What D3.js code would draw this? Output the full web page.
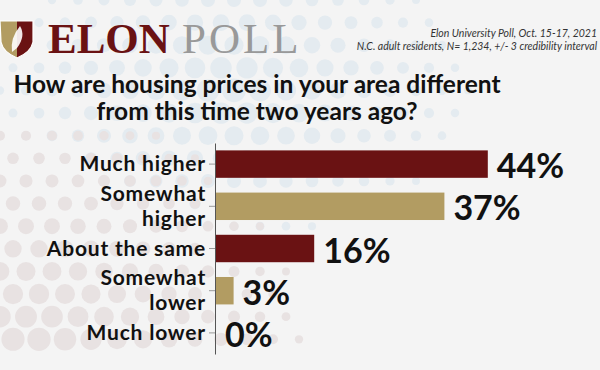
<!DOCTYPE html>
<html lang="en">
<head>
    <meta charset="UTF-8">
    <title>Elon Poll - housing prices</title>
    <script src="https://d3js.org/d3.v7.min.js"></script>
    <style>
        body { margin: 0; background: #f4f4f4; }
        svg { display: block; }
    </style>
</head>
<body>
    <svg></svg>
    <script>
        const width = 600;
        const height = 370;

        // data
        const categories = ["Much higher", "Somewhat\nhigher", "About the same", "Somewhat\nlower", "Much lower"];
        const values = [44, 37, 16, 3, 0];
        const valueLabels = ["44%", "37%", "16%", "3%", "0%"];
        const title = ["How are housing prices in your area different", "from this time two years ago?"];
        const notes = ["Elon University Poll, Oct. 15-17, 2021", "N.C. adult residents, N= 1,234, +/- 3 credibility interval"];

        const red = "#6a1213";
        const gold = "#b29c62";
        const sans = "Lato, 'Open Sans', sans-serif";

        const svg = d3.select("svg")
            .attr("width", width)
            .attr("height", height);

        svg.append("rect")
            .attr("width", width)
            .attr("height", height)
            .attr("fill", "#f4f4f4");

        // background dots (decoration)
        const deco = svg.append("g");
        const step = 26;
        for (let row = 0; row < 16; row++) {
            for (let col = 0; col < 26; col++) {
                const cx = col * step + (row % 2 ? step / 2 : 0);
                const cy = row * step * 0.87;
                // blue cloud at the top
                const db = Math.hypot((cx - 230) / 1.6, cy - 90);
                if (db < 150 && cy < 250) {
                    deco.append("circle")
                        .attr("cx", cx).attr("cy", cy)
                        .attr("r", 12 * (1 - db / 220))
                        .attr("fill", "#e4ebf0");
                }
                // pink cloud bottom left
                const dp = Math.hypot(cx - 30, (cy - 380) * 1.0);
                if (dp < 280 && cy > 120) {
                    deco.append("circle")
                        .attr("cx", cx).attr("cy", cy)
                        .attr("r", 13 * (1 - dp / 400))
                        .attr("fill", "#e8e2e2");
                }
            }
        }

        // logo
        const logo = svg.append("g");
        logo.append("path")
            .attr("d", "M0,21 L17,21 L17,58 Q3,52 1,42 Z")
            .attr("fill", gold);
        logo.append("path")
            .attr("d", "M17,21 L33,21 L33,42 Q31,52 17,58 Z")
            .attr("fill", red);
        logo.append("path")
            .attr("d", "M0,21 L33,21 L33,42 Q31,52 17,58 Q3,52 1,42 Z")
            .attr("fill", "none")
            .attr("stroke", "#fff")
            .attr("stroke-width", 1.2);
        logo.append("path")
            .attr("d", "M12,52 Q10,38 20,26 Q26,36 17,48 Z")
            .attr("fill", "#fff")
            .attr("opacity", 0.9);

        logo.append("text")
            .attr("x", 48).attr("y", 53)
            .attr("font-family", "'Liberation Serif', serif")
            .attr("font-weight", "bold")
            .attr("font-size", 43)
            .attr("fill", red)
            .text("ELON");
        logo.append("text")
            .attr("x", 182).attr("y", 53)
            .attr("font-family", "'Liberation Serif', serif")
            .attr("font-size", 43)
            .attr("letter-spacing", 3)
            .attr("fill", "#999")
            .text("POLL");

        // notes top right
        svg.append("g")
            .selectAll("text")
            .data(notes)
            .join("text")
            .attr("x", 597)
            .attr("y", (d, i) => 37 + i * 13)
            .attr("text-anchor", "end")
            .attr("font-family", sans)
            .attr("font-style", "italic")
            .attr("font-size", 10.5)
            .attr("fill", "#333")
            .text(d => d);

        // title
        svg.append("g")
            .selectAll("text")
            .data(title)
            .join("text")
            .attr("x", 257)
            .attr("y", (d, i) => 93 + i * 27)
            .attr("text-anchor", "middle")
            .attr("font-family", sans)
            .attr("font-weight", "bold")
            .attr("font-size", 24.5)
            .attr("fill", "#111")
            .text(d => d);

        // scales
        const x = d3.scaleLinear()
            .domain([0, 50])
            .range([215, 525]);

        const y = d3.scaleBand()
            .domain(categories)
            .range([143, 354])
            .paddingInner(0.35)
            .paddingOuter(0.175);

        // bars
        svg.append("g")
            .selectAll("rect")
            .data(values)
            .join("rect")
            .attr("x", x(0))
            .attr("y", (d, i) => y(categories[i]))
            .attr("width", d => x(d) - x(0))
            .attr("height", y.bandwidth())
            .attr("fill", (d, i) => i % 2 ? gold : red);

        // axis
        const axis = svg.append("g")
            .attr("transform", `translate(${x(0)},0)`)
            .call(d3.axisLeft(y).tickSize(6).tickSizeOuter(0).tickFormat(""));
        axis.select(".domain").attr("stroke", "#555");
        axis.selectAll(".tick line").attr("stroke", "#999");

        // category labels
        const labels = svg.append("g")
            .selectAll("text")
            .data(categories)
            .join("text")
            .attr("text-anchor", "end")
            .attr("font-family", sans)
            .attr("font-weight", "bold")
            .attr("font-size", 21)
            .attr("letter-spacing", 0.8)
            .attr("fill", "#111");
        labels.each(function(d) {
            const lines = d.split("\n");
            const c = y(d) + y.bandwidth() / 2;
            const lh = 25.5;
            const y0 = c + 7 - (lines.length - 1) * lh / 2;
            d3.select(this).selectAll("tspan")
                .data(lines)
                .join("tspan")
                .attr("x", 206)
                .attr("y", (l, j) => y0 + j * lh)
                .text(l => l);
        });

        // value labels
        svg.append("g")
            .selectAll("text")
            .data(values)
            .join("text")
            .attr("x", d => x(d) + (d ? 9 : 10))
            .attr("y", (d, i) => y(categories[i]) + y.bandwidth() / 2 + 14)
            .attr("font-family", sans)
            .attr("font-weight", "bold")
            .attr("font-size", 34)
            .attr("fill", "#111")
            .text((d, i) => valueLabels[i]);
    </script>
</body>
</html>
